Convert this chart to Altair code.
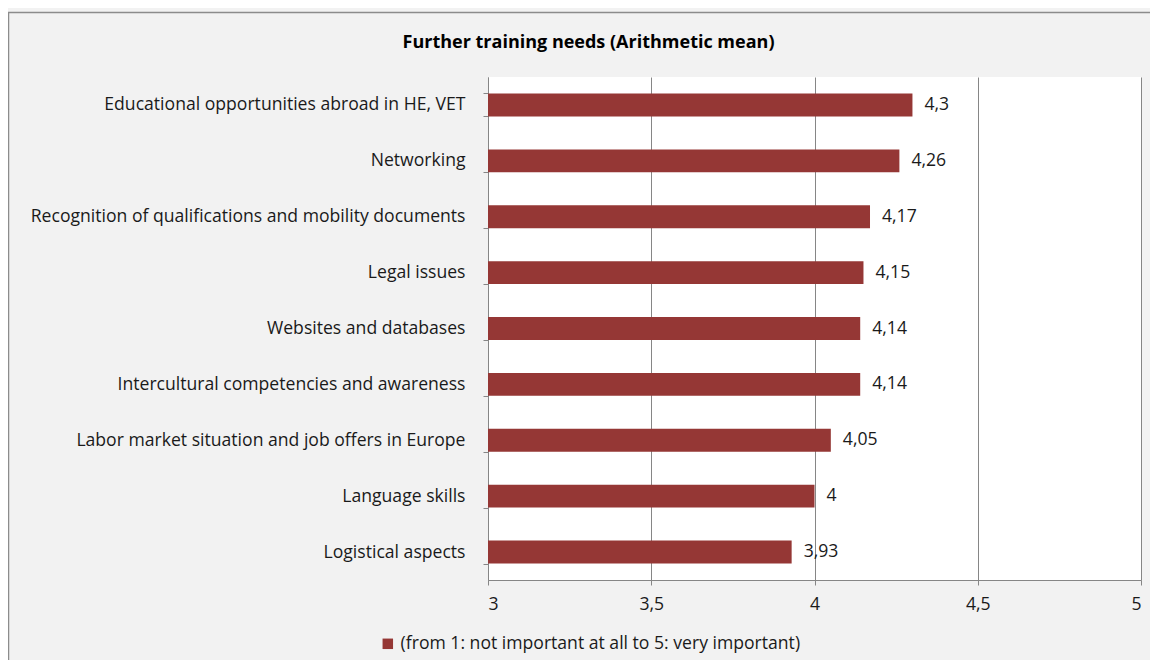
import altair as alt
import pandas as pd

categories = [
    "Educational opportunities abroad in HE, VET",
    "Networking",
    "Recognition of qualifications and mobility documents",
    "Legal issues",
    "Websites and databases",
    "Intercultural competencies and awareness",
    "Labor market situation and job offers in Europe",
    "Language skills",
    "Logistical aspects",
]
values = [4.30, 4.26, 4.17, 4.15, 4.14, 4.14, 4.05, 4.00, 3.93]
value_labels = ["4,3", "4,26", "4,17", "4,15", "4,14", "4,14", "4,05", "4", "3,93"]
series_name = "(from 1: not important at all to 5: very important)"
x_ticks = [3, 3.5, 4, 4.5, 5]

df = pd.DataFrame({
    "category": categories,
    "value": values,
    "label": value_labels,
    "series": [series_name] * len(categories),
})

FONT = "Open Sans"
FS = 17.6
TXT = "#1a1a1a"
W, H = 653, 503

y_enc = alt.Y(
    "category:N", sort=categories, title=None,
    scale=alt.Scale(paddingInner=0.59, paddingOuter=0.295),
    axis=alt.Axis(
        tickBand="extent", tickSize=5, tickColor="#868686",
        domainColor="#868686", labelPadding=18, labelFontSize=FS,
        labelFont=FONT, labelColor=TXT, labelLimit=600, grid=False,
    ),
)
x_enc = alt.X(
    "value:Q", title=None,
    scale=alt.Scale(domain=[3, 5], nice=False, zero=False),
    axis=alt.Axis(
        values=x_ticks, format="~g", labelExpr="replace(datum.label, '.', ',')",
        grid=True, gridColor="#868686", gridWidth=1,
        tickSize=5, tickColor="#868686", domainColor="#868686",
        labelFontSize=FS, labelFont=FONT, labelColor=TXT, labelPadding=10,
    ),
)

bars = alt.Chart(df).mark_bar(clip=True).encode(
    x=x_enc,
    x2=alt.datum(3),
    y=y_enc,
    color=alt.Color(
        "series:N", title=None,
        scale=alt.Scale(domain=[series_name], range=["#953735"]),
        legend=alt.Legend(
            orient="none", legendX=-109, legendY=558, symbolType="square",
            symbolSize=110, symbolStrokeWidth=0, labelFontSize=FS, labelFont=FONT,
            labelColor=TXT, labelLimit=700, symbolOffset=0, labelOffset=4,
        ),
    ),
)

text = alt.Chart(df).mark_text(
    align="left", baseline="middle", dx=12, fontSize=FS, font=FONT, color=TXT
).encode(
    x=alt.X("value:Q"),
    y=alt.Y("category:N", sort=categories),
    text="label:N",
)

frame = alt.Chart(pd.DataFrame({"k": [0]})).mark_rect(
    fill=None, stroke="#8c8c8c", strokeWidth=1.5
).encode(
    x=alt.value(-479.5), x2=alt.value(W + 40),
    y=alt.value(-64.5), y2=alt.value(H + 120),
)

chart = alt.layer(frame, bars, text).properties(
    width=W, height=H,
    title=alt.TitleParams(
        "Further training needs (Arithmetic mean)",
        font=FONT, fontSize=18, fontWeight="bold", color="#000000",
        anchor="middle", frame="group", dx=-226, offset=-40,
    ),
    padding={"left": 480, "top": 69, "right": 9, "bottom": 80},
    autosize=alt.AutoSizeParams(type="none"),
).configure(background="#f2f2f2").configure_view(fill="white", stroke=None)

chart.save("out.html", embed_options={"renderer": "svg", "actions": False})
